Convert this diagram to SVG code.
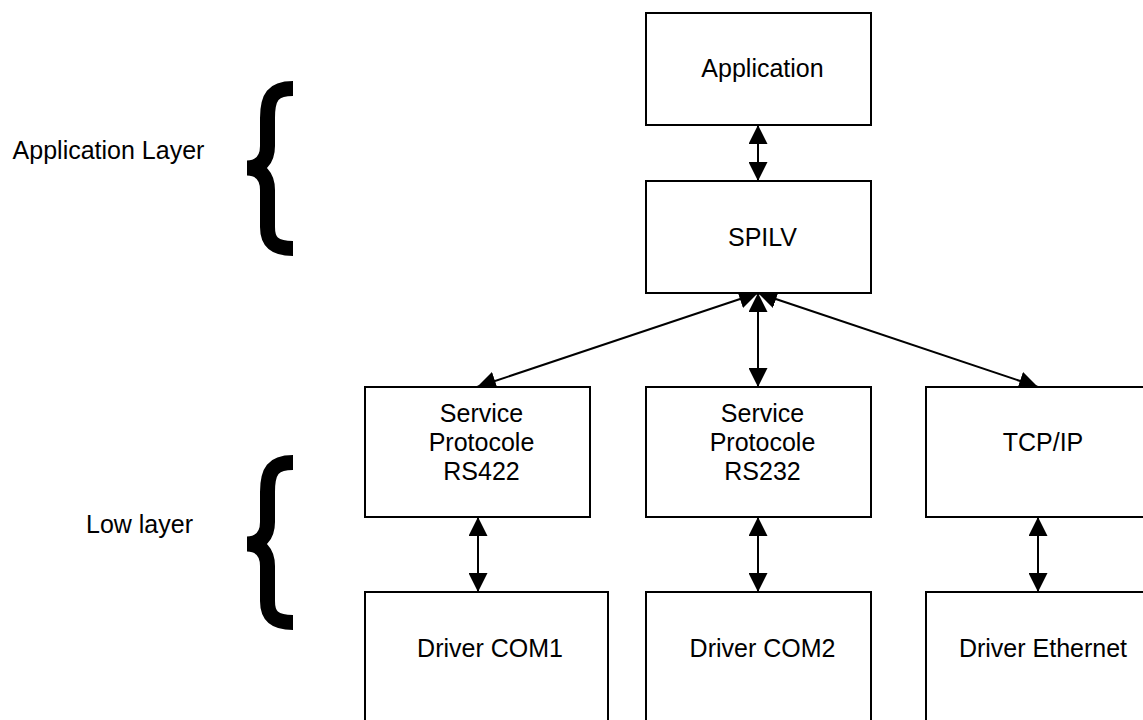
<svg xmlns="http://www.w3.org/2000/svg" width="1143" height="720" viewBox="0 0 1143 720">
<style>
.box{fill:#fff;stroke:#000;stroke-width:2}
.lbl{font-family:"Liberation Sans",Arial,sans-serif;font-size:25px;fill:#000;text-anchor:middle}
.conn{stroke:#000;stroke-width:2;fill:none;marker-start:url(#ah);marker-end:url(#ah)}
.brace{fill:none;stroke:#000;stroke-width:15}
</style>
<defs>
<marker id="ah" viewBox="0 0 19 19" refX="19" refY="9.5" markerWidth="19" markerHeight="19" markerUnits="userSpaceOnUse" orient="auto-start-reverse">
<path d="M0,0 L19,9.5 L0,19 z" fill="#000"/>
</marker>
</defs>
<rect width="1143" height="720" fill="#fff"/>
<g id="label-application-layer">
<text class="lbl" x="108.5" y="159">Application Layer</text>
<path class="brace" d="M293,88.5 C273,88.5 267.5,97 267.5,118 L267.5,146 C267.5,160 260,168 247,168 C260,168 267.5,176 267.5,190 L267.5,227 C267.5,241 273,248.5 293,248.5"/>
</g>
<g id="label-low-layer">
<text class="lbl" x="139.5" y="533">Low layer</text>
<path class="brace" d="M293,462.5 C273,462.5 267.5,471 267.5,492 L267.5,522 C267.5,536 260,544 247,544 C260,544 267.5,552 267.5,566 L267.5,601 C267.5,615 273,622.5 293,622.5"/>
</g>
<g id="connectors">
<line class="conn" x1="758" y1="125" x2="758" y2="181"/>
<line class="conn" x1="758" y1="293" x2="477" y2="387"/>
<line class="conn" x1="758" y1="293" x2="758" y2="387"/>
<line class="conn" x1="758" y1="293" x2="1038" y2="387"/>
<line class="conn" x1="478" y1="517" x2="478" y2="592"/>
<line class="conn" x1="758" y1="517" x2="758" y2="592"/>
<line class="conn" x1="1038" y1="517" x2="1038" y2="592"/>
</g>
<g id="node-application">
<rect class="box" x="646" y="13" width="225" height="112"/>
<text class="lbl" x="762.5" y="77">Application</text>
</g>
<g id="node-spilv">
<rect class="box" x="646" y="181" width="225" height="112"/>
<text class="lbl" x="762.5" y="246">SPILV</text>
</g>
<g id="node-sp-rs422">
<rect class="box" x="365" y="387" width="225" height="130"/>
<text class="lbl" x="481.5" y="422">Service</text>
<text class="lbl" x="481.5" y="451">Protocole</text>
<text class="lbl" x="481.5" y="480">RS422</text>
</g>
<g id="node-sp-rs232">
<rect class="box" x="646" y="387" width="225" height="130"/>
<text class="lbl" x="762.5" y="422">Service</text>
<text class="lbl" x="762.5" y="451">Protocole</text>
<text class="lbl" x="762.5" y="480">RS232</text>
</g>
<g id="node-tcpip">
<rect class="box" x="926" y="387" width="225" height="130"/>
<text class="lbl" x="1043" y="451">TCP/IP</text>
</g>
<g id="node-driver-com1">
<rect class="box" x="365" y="592" width="243" height="140"/>
<text class="lbl" x="490" y="657">Driver COM1</text>
</g>
<g id="node-driver-com2">
<rect class="box" x="646" y="592" width="225" height="140"/>
<text class="lbl" x="762.5" y="657">Driver COM2</text>
</g>
<g id="node-driver-ethernet">
<rect class="box" x="926" y="592" width="243" height="140"/>
<text class="lbl" x="1043" y="657">Driver Ethernet</text>
</g>
</svg>
